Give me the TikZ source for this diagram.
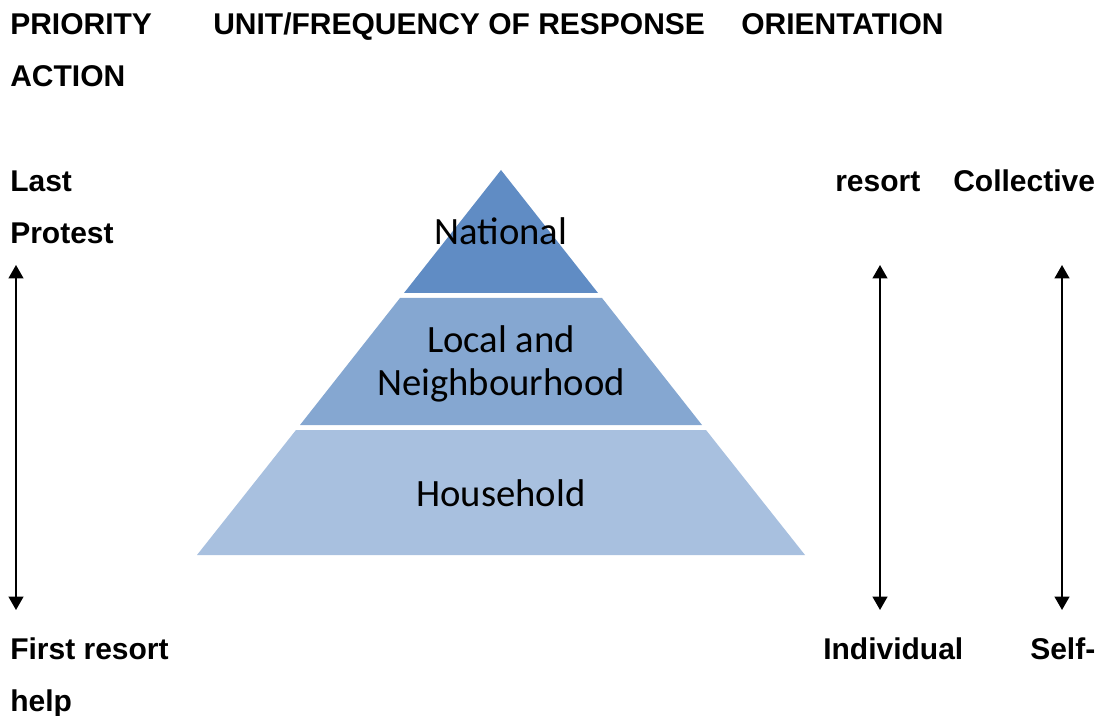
\documentclass[tikz,border=0pt]{standalone}
\usepackage{fontspec}
\setmainfont{Liberation Sans}
\newfontfamily\tierfont{Carlito}
\usetikzlibrary{arrows.meta}
\definecolor{tierTop}{RGB}{96,140,196}
\definecolor{tierMid}{RGB}{133,167,209}
\definecolor{tierLow}{RGB}{168,192,223}
\begin{document}
\begin{tikzpicture}[x=0.75pt,y=-0.75pt,
  lbl/.style={anchor=base west,inner sep=0pt,font=\fontsize{22.5}{27}\selectfont\bfseries},
  tiertext/.style={anchor=base,inner sep=0pt,font=\tierfont\fontsize{29}{32}\selectfont},
  scalearrow/.style={line width=1.5pt,{Triangle[length=10pt,width=11pt]}-{Triangle[length=10pt,width=11pt]}}]
\useasboundingbox (0,0) rectangle (1098,716);

% column headings
\node[lbl] (hPri) at (10,35) {PRIORITY};
\node[lbl] (hUnit) at (213,35) {UNIT/FREQUENCY OF RESPONSE};
\node[lbl] (hOri) at (741,35) {ORIENTATION};
\node[lbl] (hAct) at (10,87) {ACTION};

% upper end labels
\node[lbl] (last) at (10,192) {Last};
\node[lbl] (resort) at (835,192) {resort};
\node[lbl] (coll) at (953,192) {Collective};
\node[lbl] (prot) at (10,244) {Protest};

% lower end labels
\node[lbl] (first) at (10,659) {First resort};
\node[lbl] (indiv) at (823,659) {Individual};
\node[lbl] (self) at (1030,659) {Self-};
\node[lbl] (help) at (10,711) {help};

% pyramid tiers
\fill[tierTop] (501,170) -- (598,293) -- (404,293) -- cycle;
\fill[tierMid] (400,298) -- (602,298) -- (702,425) -- (300,425) -- cycle;
\fill[tierLow] (296,430) -- (706,430) -- (805,555) -- (197,555) -- cycle;

\node[tiertext] (nat) at (501,245) {National};
\node[tiertext,align=center] (loc) at (501,395) {Local and\\Neighbourhood};
\node[tiertext] (hh) at (501,506) {Household};

% scale arrows
\coordinate (aTop) at (16,265);
\coordinate (aBot) at (16,610);
\coordinate (bTop) at (880,265);
\coordinate (bBot) at (880,610);
\coordinate (cTop) at (1062,265);
\coordinate (cBot) at (1062,610);
\draw[scalearrow] (aTop) -- (aBot);
\draw[scalearrow] (bTop) -- (bBot);
\draw[scalearrow] (cTop) -- (cBot);
\end{tikzpicture}
\end{document}
